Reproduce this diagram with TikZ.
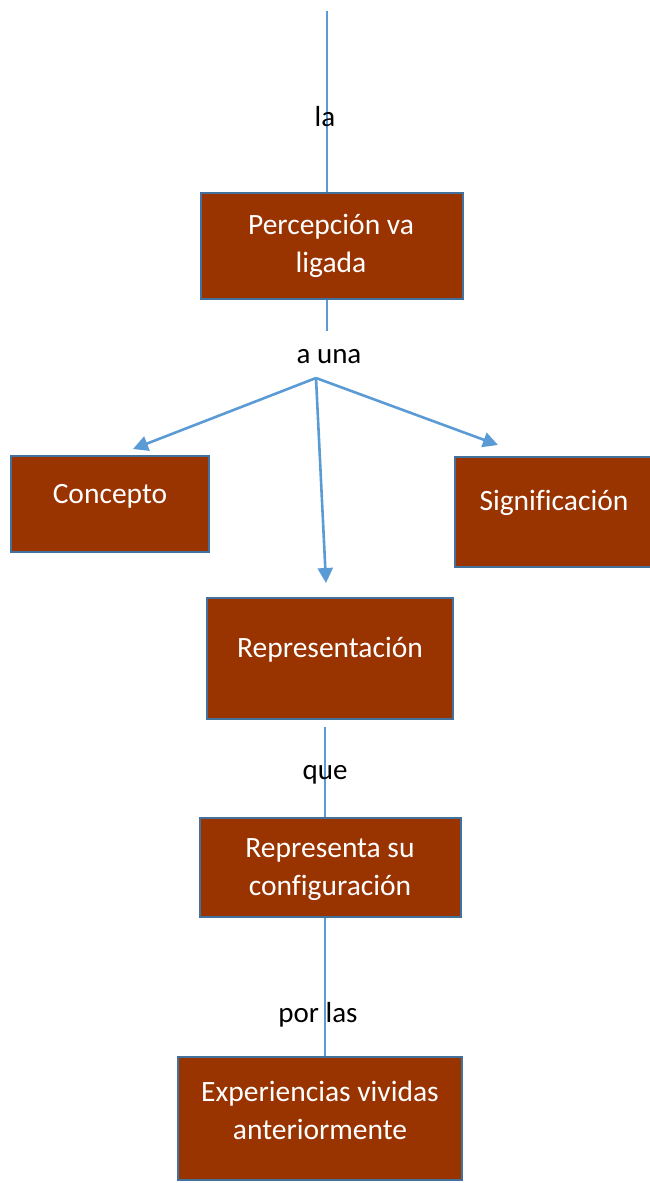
\documentclass[tikz,border=0pt]{standalone}
\usepackage{fontspec}
\setmainfont{Carlito}[Ligatures=CommonOff]
\usetikzlibrary{arrows.meta}
\definecolor{boxfill}{HTML}{993300}
\definecolor{boxline}{HTML}{41719C}
\definecolor{conn}{HTML}{5B9BD5}
\tikzset{
  box/.style={draw=boxline, line width=2pt, fill=boxfill, rectangle, inner sep=0pt},
  boxtext/.style={text=white, font=\fontsize{29.5}{38}\selectfont, align=center, inner sep=0pt},
  lbl/.style={text=black, font=\fontsize{29}{34}\selectfont, inner sep=0pt},
  thin/.style={draw=conn, line width=1.3pt},
  arr/.style={draw=conn, line width=2.6pt, -{Triangle[length=15pt, width=15pt]}}
}
\begin{document}
\begin{tikzpicture}[x=1pt, y=-1pt]
\useasboundingbox (0,0) rectangle (649,1183);
% boxes
\node[box, minimum width=262pt, minimum height=106pt] (b1) at (332,246) {};
\node[boxtext] (t1) at (331,246) {Percepción va\\ligada};
\node[box, minimum width=198pt, minimum height=96pt] (b2) at (110,504) {};
\node[boxtext] (t2) at (110,496) {Concepto};
\node[box, minimum width=200pt, minimum height=110pt] (b3) at (555,512) {};
\node[boxtext] (t3) at (554,503) {Significación};
\node[box, minimum width=246pt, minimum height=121pt] (b4) at (330,658.5) {};
\node[boxtext] (t4) at (330,650) {Representación};
\node[box, minimum width=261pt, minimum height=99pt] (b5) at (330.5,867.5) {};
\node[boxtext] (t5) at (330,869.5) {Representa su\\configuración};
\node[box, minimum width=284pt, minimum height=123pt] (b6) at (320,1118.5) {};
\node[boxtext] (t6) at (320,1110.5) {Experiencias vividas\\anteriormente};
% coordinates
\coordinate (top) at (327,11);
\coordinate (c1) at (327,331);
\coordinate (o) at (316,378);
\coordinate (tl) at (133,449);
\coordinate (tr) at (498,445);
\coordinate (tm) at (326,583);
\coordinate (c3) at (325,727);
% connectors
\draw[thin] (top) -- (top |- b1.north);
\draw[thin] (b1.south -| c1) -- (c1);
\draw[arr] (o) -- (tl);
\draw[arr] (o) -- (tr);
\draw[arr] (o) -- (tm);
\draw[thin] (c3) -- (c3 |- b5.north);
\draw[thin] (b5.south -| c3) -- (c3 |- b6.north);
% labels
\node[lbl] (l1) at (325,117) {la};
\node[lbl] (l2) at (329,357) {a una};
\node[lbl] (l3) at (325,775) {que};
\node[lbl] (l4) at (318,1015) {por las};
\end{tikzpicture}
\end{document}
